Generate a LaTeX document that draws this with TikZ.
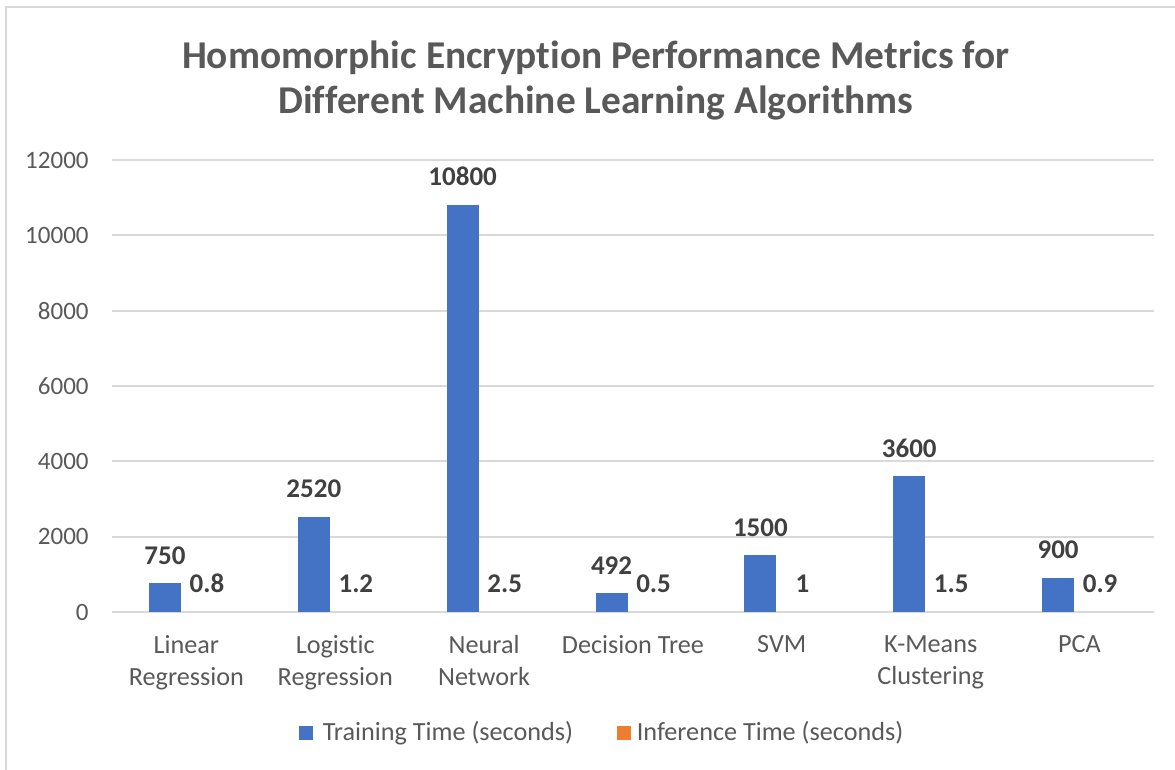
\documentclass[tikz,border=0pt]{standalone}
\usepackage{fontspec}
\setmainfont{Carlito}[Ligatures=NoCommon]
\usepackage{xcolor}
\usetikzlibrary{positioning}
\usetikzlibrary{calc}

\definecolor{trainblue}{HTML}{4472C4}
\definecolor{inferorange}{HTML}{ED7D31}
\definecolor{axisgray}{HTML}{595959}
\definecolor{gridgray}{HTML}{D9D9D9}
\definecolor{labelgray}{HTML}{404040}

\begin{document}
\begin{tikzpicture}[x=0.5pt,y=-0.5pt,
    grid line/.style={draw=gridgray,line width=1pt},
    train bar/.style={rectangle,fill=trainblue,inner sep=0,minimum width=16pt,
                      minimum height={#1*0.018833pt},anchor=south},
    value label/.style={font=\bfseries\fontsize{13.5}{15}\selectfont,text=labelgray,inner sep=0},
    tick label/.style={font=\fontsize{12.5}{14}\selectfont,text=axisgray,inner sep=0,anchor=east},
    cat label/.style={font=\fontsize{13.1}{16}\selectfont,text=axisgray,align=center,inner sep=0,anchor=north},
    key box/.style={rectangle,minimum size=7pt,inner sep=0},
    key text/.style={font=\fontsize{13.1}{15}\selectfont,text=axisgray,inner sep=0}]
\useasboundingbox (0,0) rectangle (1175,770);

% chart frame
\draw[gridgray,line width=1pt] (6,770) -- (6,7) -- (1175,7);

% title
\node[font=\bfseries\fontsize{19.7}{22.5}\selectfont,text=axisgray,align=center] (title) at (596,81)
  {Homomorphic Encryption Performance Metrics for\\Different Machine Learning Algorithms};

% grid and y axis
\foreach \v [count=\k from 0] in {0,2000,4000,6000,8000,10000,12000} {
  \draw[grid line] (112,612-75.333*\k) -- (1154,612-75.333*\k);
  \node[tick label] (tick\k) at (89,612-75.333*\k) {\v};
}

% training time bars
\node[train bar=750]   (lr)  at (165,612)    {};
\node[train bar=2520]  (log) at (313.85,612) {};
\node[train bar=10800] (nn)  at (462.7,612)  {};
\node[train bar=492]   (dt)  at (611.55,612) {};
\node[train bar=1500]  (svm) at (760.4,612)  {};
\node[train bar=3600]  (km)  at (909.25,612) {};
\node[train bar=900]   (pca) at (1058.1,612) {};

\node[value label] (lr v)  [above=9pt of lr]  {750};
\node[value label] (log v) [above=9pt of log] {2520};
\node[value label] (nn v)  [above=9pt of nn]  {10800};
\node[value label] (dt v)  [above=9pt of dt]  {492};
\node[value label] (svm v) [above=9pt of svm] {1500};
\node[value label] (km v)  [above=9pt of km]  {3600};
\node[value label] (pca v) [above=9pt of pca] {900};

% inference time (too small to show as bars)
\coordinate (lr i)  at (207,612);
\coordinate (log i) at (355.85,612);
\coordinate (nn i)  at (504.7,612);
\coordinate (dt i)  at (653.55,612);
\coordinate (svm i) at (802.4,612);
\coordinate (km i)  at (951.25,612);
\coordinate (pca i) at (1100.1,612);

\node[value label] (lr iv)  [above=9.5pt of lr i]  {0.8};
\node[value label] (log iv) [above=9.5pt of log i] {1.2};
\node[value label] (nn iv)  [above=9.5pt of nn i]  {2.5};
\node[value label] (dt iv)  [above=9.5pt of dt i]  {0.5};
\node[value label] (svm iv) [above=9.5pt of svm i] {1};
\node[value label] (km iv)  [above=9.5pt of km i]  {1.5};
\node[value label] (pca iv) [above=9.5pt of pca i] {0.9};

% categories
\node[cat label] (lr c)  at (186.4,635)  {Linear\\Regression};
\node[cat label] (log c) at (335.25,635) {Logistic\\Regression};
\node[cat label] (nn c)  at (484.1,635)  {Neural\\Network};
\node[cat label] (dt c)  at (632.95,635) {Decision Tree};
\node[cat label] (svm c) at (781.8,635)  {SVM};
\node[cat label] (km c)  at (930.65,635) {K-Means\\Clustering};
\node[cat label] (pca c) at (1079.5,635) {PCA};

% legend
\node[key box,fill=trainblue] (key train) at (306,733) {};
\node[key text] (key train t) [right=4.5pt of key train] {Training Time (seconds)};
\node[key box,fill=inferorange] (key infer) at (624,733) {};
\node[key text] (key infer t) [right=2.5pt of key infer] {Inference Time (seconds)};
\end{tikzpicture}
\end{document}
